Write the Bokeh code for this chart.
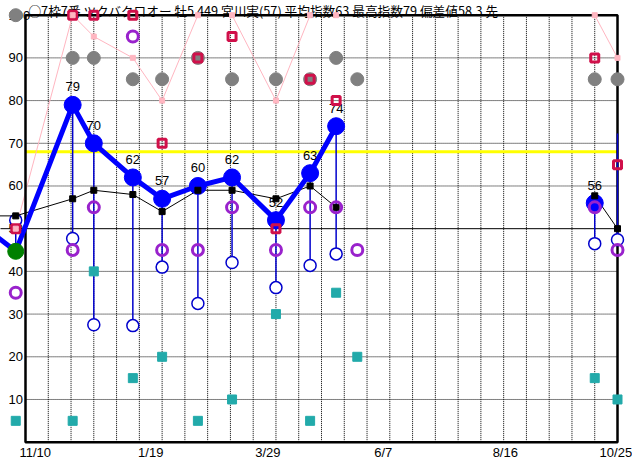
import math
from bokeh.plotting import figure
from bokeh.models import Range1d, LinearAxis, FixedTicker, Label
from bokeh.core.properties import value
from bokeh.embed import file_html
from bokeh.resources import INLINE

nan = float("nan")

title_text = "○7枠7番 ツクバクロオー 牡5 449 宮川実(57) 平均指数63 最高指数79 偏差値58.3 先"

# race positions, in days from the left edge of the chart box
race_day = [-24, -6, 29, 42, 66, 84, 106, 127, 154, 175, 191, 204, 350, 364]
# speed index (blue thick line)
index_val = [50, 44.7, 79, 70, 62, 57, 60, 62, 52, 63, 74, nan, 56, nan]
# top of thin vertical blue line
vline_top = [nan, 44.7, 79, 70, 62, 57, 60, 62, 52, 63, 74, nan, 56, 72.3]
# lower value (blue open circles)
low_val = [nan, 52, 47.7, 27.5, 27.3, 41, 32.5, 42.1, 36.2, 41.4, 44.1, nan, 46.5, 47.4]
# black squares line
black_val = [53, 53, 57, 59, 58, 54, 59, 59, 57, 60, 55, nan, 57.7, 50]
purple_val = [nan, 35, 45, 55, 95, 45, 45, 55, 45, 55, 55, 45, 55, 45]
grey_val = [nan, 100, 90, 90, 85, 85, 90, 85, 85, 85, 90, 85, 85, 85]
red_val = [nan, 50, 100, 100, 100, 70, 90, 95, 50, 85, 80, nan, 90, 65]
pink_val = [nan, 50, 100, 95, 90, 80, 100, 100, 80, 100, 100, nan, 100, 90]
teal_val = [nan, 5, 5, 40, 15, 20, 5, 10, 30, 5, 35, 20, 15, 10]
show_label = [False, False, True, True, True, True, True, True, True, True, True, False, True, False]
yellow_level = 68
base_level = 50

x_tick_days = [6, 77, 149, 220, 295, 363]
x_tick_labels = ["11/10", "1/19", "3/29", "6/7", "8/16", "10/25"]
y_ticks = [10, 20, 30, 40, 50, 60, 70, 80, 90, 100]

BOX_X0, BOX_X1 = 0, 364
GRID_STEP = 14
X0, X1 = -15.37, 373.22
Y0, Y1 = -4.29, 103.44

NUM_FONT = "Liberation Sans"


def pairs(xs, ys):
    out_x, out_y = [], []
    for a, b in zip(xs, ys):
        if not math.isnan(b):
            out_x.append(a)
            out_y.append(b)
    return out_x, out_y


p = figure(width=632, height=460, x_range=Range1d(X0, X1), y_range=Range1d(Y0, Y1),
           x_axis_type=None, y_axis_type=None, toolbar_location=None,
           output_backend="svg", min_border=0, outline_line_color=None,
           background_fill_color="white", border_fill_color="white")

# y labels: left-aligned at the left edge of the picture
yaxis = LinearAxis(fixed_location=X0, ticker=FixedTicker(ticks=y_ticks),
                   axis_line_color=None, major_tick_line_color=None,
                   minor_tick_line_color=None, major_label_standoff=2,
                   major_label_text_font=NUM_FONT,
                   major_label_text_font_size="13px", major_label_text_color="black")
p.add_layout(yaxis, "right")
xaxis = LinearAxis(fixed_location=1.4, ticker=FixedTicker(ticks=x_tick_days),
                   major_label_overrides={d: t for d, t in zip(x_tick_days, x_tick_labels)},
                   axis_line_color=None, major_tick_line_color=None,
                   minor_tick_line_color=None, major_label_standoff=3,
                   major_label_text_font=NUM_FONT,
                   major_label_text_font_size="13px", major_label_text_color="black")
p.add_layout(xaxis, "below")

L = "overlay"

# dotted grid
gx = [GRID_STEP * k for k in range(1, BOX_X1 // GRID_STEP)]
p.segment(x0=gx, y0=[0] * len(gx), x1=gx, y1=[100] * len(gx),
          line_color="black", line_width=1, line_dash="1 1", level=L)
gy = [t for t in y_ticks if t not in (base_level, 100)]
p.segment(x0=[BOX_X0] * len(gy), y0=gy, x1=[BOX_X1] * len(gy), y1=gy,
          line_color="black", line_width=1, line_dash="1 1", level=L)

# reference lines
p.segment(x0=[BOX_X0], y0=[yellow_level], x1=[BOX_X1], y1=[yellow_level],
          line_color="#ffff00", line_width=3, level=L)
p.segment(x0=[X0], y0=[base_level], x1=[BOX_X1], y1=[base_level],
          line_color="black", line_width=1, level=L)

# pink line (under the box)
px_, py_ = pairs(race_day, pink_val)
p.line(px_, py_, line_color="#ffb6c1", line_width=1, level=L)

# box
p.quad(left=[BOX_X0], right=[BOX_X1], bottom=[0], top=[100], fill_color=None,
       line_color="black", line_width=2.5, level=L)

# thin vertical blue lines
vx, vt, vb = [], [], []
for d, t, b in zip(race_day, vline_top, low_val):
    if not math.isnan(t) and not math.isnan(b):
        vx.append(d); vt.append(t); vb.append(b)
p.segment(x0=vx, y0=vt, x1=vx, y1=vb, line_color="#0000cc", line_width=1.5, level=L)

# blue open circles
ox, oy = pairs(race_day, low_val)
p.scatter(ox, oy, marker="circle", size=12, fill_color="white",
          line_color="#0000cc", line_width=1.5, level=L)

# black line
p.line(race_day, black_val, line_color="black", line_width=1, level=L)

# blue thick line and discs
p.line(race_day, index_val, line_color="#0000ff", line_width=5, level=L)
bx, by = pairs(race_day[2:], index_val[2:])
p.scatter(bx, by, marker="circle", size=17, fill_color="#0000ff",
          line_color="#0000ff", level=L)
p.scatter([race_day[1]], [index_val[1]], marker="circle", size=16,
          fill_color="#008000", line_color="#008000", level=L)

# value labels
lx = [d for d, s in zip(race_day, show_label) if s]
ly = [v for v, s in zip(index_val, show_label) if s]
lt = [str(int(round(v))) for v in ly]
p.text(lx, ly, text=lt, text_align="center", text_baseline="middle", y_offset=-18,
       text_font=value(NUM_FONT), text_font_size="13px", text_color="black", level=L)

# black squares
kx, ky = pairs(race_day[1:], black_val[1:])
p.scatter(kx, ky, marker="square", size=6, fill_color="black", line_color="black", level=L)

# purple rings
qx, qy = pairs(race_day, purple_val)
p.scatter(qx, qy, marker="circle", size=11, fill_color=None,
          line_color="#9922cc", line_width=3, level=L)

# grey dots
gx2, gy2 = pairs(race_day, grey_val)
p.scatter(gx2, gy2, marker="circle", size=13, fill_color="#808080",
          line_color="#808080", level=L)

# red hollow squares
rx, ry = pairs(race_day, red_val)
p.scatter(rx, ry, marker="square", size=8, fill_color=None,
          line_color="#d0104a", line_width=3, level=L)

# pink small squares
p.scatter(px_, py_, marker="square", size=5, fill_color="#ffb6c1",
          line_color="#ffb6c1", level=L)

# teal squares
tx, ty = pairs(race_day, teal_val)
p.scatter(tx, ty, marker="square", size=9, fill_color="#22aaaa",
          line_color="#22aaaa", level=L)

# title
p.add_layout(Label(x=1.8, y=Y1, text=title_text, text_align="left",
                   text_baseline="top", text_font="Noto Sans CJK JP",
                   text_font_size="12.7px", text_color="black",
                   text_line_height=1.0, y_offset=0))

open("out.html", "w").write(file_html(p, INLINE))
